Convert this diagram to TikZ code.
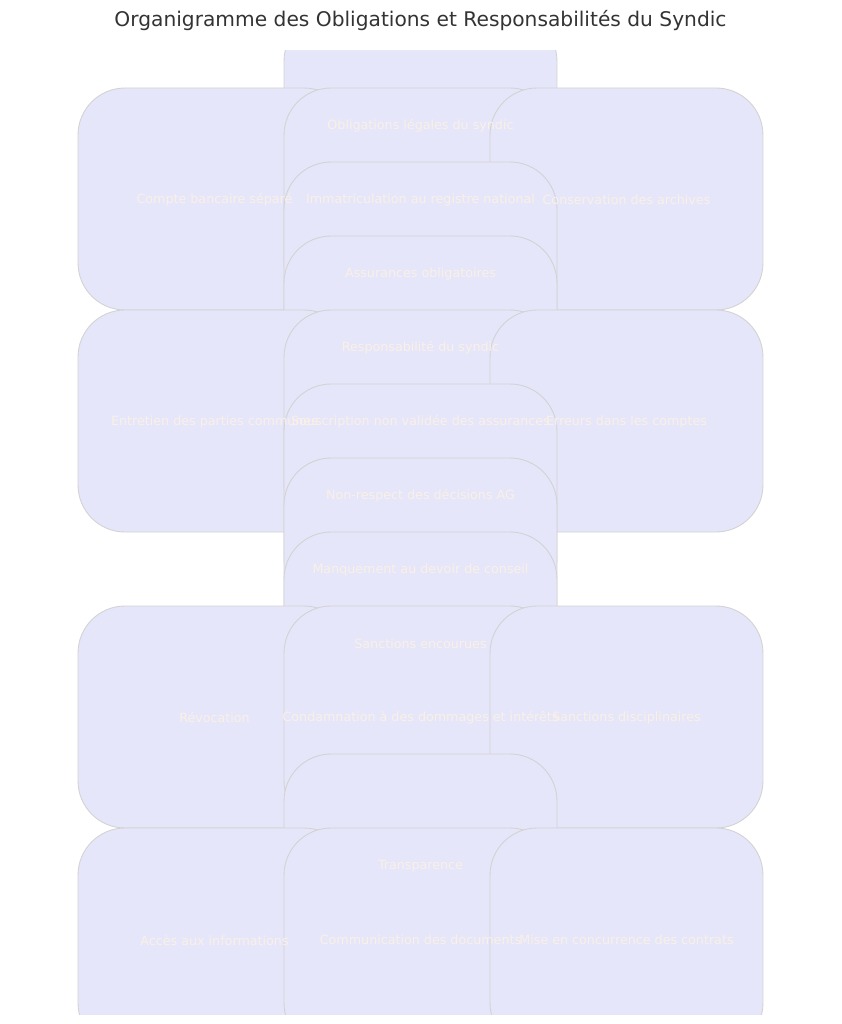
\documentclass[tikz,border=0pt]{standalone}
\usepackage{fontspec}
\setmainfont{DejaVu Sans}
\definecolor{cardfill}{HTML}{E6E6FA}
\definecolor{cardedge}{HTML}{D3D3D3}
\definecolor{cardtext}{HTML}{FAF0E6}
\definecolor{titletext}{HTML}{333333}
\tikzset{
  card/.style={draw=cardedge, fill=cardfill, line width=.9pt, inner sep=0pt,
    minimum width=346.8pt, minimum height=222pt, rounded corners=47pt, xscale=.787},
  cardlabel/.style={text=cardtext, inner sep=0pt, yshift=-1pt, font=\fontsize{12.7}{15}\selectfont},
}
\begin{document}
\begin{tikzpicture}[x=1pt, y=-1pt]
\useasboundingbox (0,0) rectangle (841,1024);
\node[text=titletext, font=\fontsize{20.2}{24}\selectfont] (title) at (420.5,20.5) {Organigramme des Obligations et Responsabilités du Syndic};

\begin{scope}
\clip (0,51) rectangle (841,1014);
% obligations
\node[card] (obl) at (420.5,125) {};
\node[card] (compte) at (214.5,199) {};
\node[card] (immat) at (420.5,199) {};
\node[card] (archives) at (626.5,199) {};
\node[card] (assur) at (420.5,273) {};
% responsabilite
\node[card] (resp) at (420.5,347) {};
\node[card] (entretien) at (214.5,421) {};
\node[card] (souscr) at (420.5,421) {};
\node[card] (erreurs) at (626.5,421) {};
\node[card] (nonresp) at (420.5,495) {};
\node[card] (conseil) at (420.5,569) {};
% sanctions
\node[card] (sanct) at (420.5,643) {};
\node[card] (revoc) at (214.5,717) {};
\node[card] (condam) at (420.5,717) {};
\node[card] (discip) at (626.5,717) {};
% transparence
\node[card] (transp) at (420.5,865) {};
\node[card] (acces) at (214.5,939) {};
\node[card] (commun) at (420.5,939) {};
\node[card] (concur) at (626.5,939) {};
\end{scope}

\node[cardlabel] at (obl) {Obligations légales du syndic};
\node[cardlabel] at (compte) {Compte bancaire séparé};
\node[cardlabel] at (immat) {Immatriculation au registre national};
\node[cardlabel] at (archives) {Conservation des archives};
\node[cardlabel] at (assur) {Assurances obligatoires};
\node[cardlabel] at (resp) {Responsabilité du syndic};
\node[cardlabel] at (entretien) {Entretien des parties communes};
\node[cardlabel] at (souscr) {Souscription non validée des assurances};
\node[cardlabel] at (erreurs) {Erreurs dans les comptes};
\node[cardlabel] at (nonresp) {Non-respect des décisions AG};
\node[cardlabel] at (conseil) {Manquement au devoir de conseil};
\node[cardlabel] at (sanct) {Sanctions encourues};
\node[cardlabel] at (revoc) {Révocation};
\node[cardlabel] at (condam) {Condamnation à des dommages et intérêts};
\node[cardlabel] at (discip) {Sanctions disciplinaires};
\node[cardlabel] at (transp) {Transparence};
\node[cardlabel] at (acces) {Accès aux informations};
\node[cardlabel] at (commun) {Communication des documents};
\node[cardlabel] at (concur) {Mise en concurrence des contrats};

\end{tikzpicture}
\end{document}
